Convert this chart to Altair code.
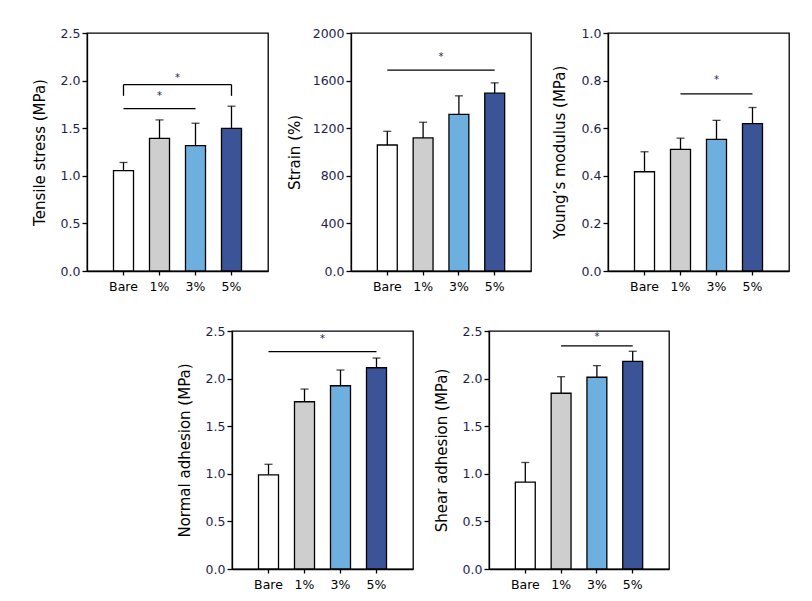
import altair as alt
import pandas as pd

cats = ["Bare", "1%", "3%", "5%"]
colors = ["#ffffff", "#cfcecf", "#6db0e0", "#3a5497"]

tensile_mean = [1.055, 1.394, 1.317, 1.499]
tensile_err = [0.085, 0.193, 0.235, 0.232]
strain_mean = [1059, 1118, 1317, 1494]
strain_err = [115, 132, 155, 87]
young_mean = [0.417, 0.511, 0.553, 0.619]
young_err = [0.084, 0.047, 0.080, 0.068]
normal_mean = [0.989, 1.757, 1.925, 2.114]
normal_err = [0.111, 0.133, 0.165, 0.102]
shear_mean = [0.913, 1.846, 2.014, 2.180]
shear_err = [0.206, 0.174, 0.122, 0.107]

# significance brackets: (from, to, level)
tensile_br = [("Bare", "5%", 1.958), ("Bare", "3%", 1.706)]
tensile_legs = [("Bare", 1.958, 1.84), ("5%", 1.958, 1.84)]
tensile_stars = [("1%", 2.03, True), ("1%", 1.84, False)]
strain_br = [("Bare", "5%", 1688)]
strain_stars = [("1%", 1800, True)]
young_br = [("1%", "5%", 0.744)]
young_stars = [("3%", 0.803, False)]
normal_br = [("Bare", "5%", 2.283)]
normal_stars = [("1%", 2.412, True)]
shear_br = [("1%", "5%", 2.343)]
shear_stars = [("3%", 2.44, False)]

tensile_ticks = [0, 0.5, 1.0, 1.5, 2.0, 2.5]
strain_ticks = [0, 400, 800, 1200, 1600, 2000]
young_ticks = [0, 0.2, 0.4, 0.6, 0.8, 1.0]

TICK_COLOR = "#1e1e4e"
H = 238
STEP = 36


def panel(title, mean, err, ymax, ticks, fmt, brackets, legs, stars, width, title_x):
    df = pd.DataFrame({"cat": cats, "mean": mean,
                       "top": [m + e for m, e in zip(mean, err)],
                       "color": colors})
    xscale = alt.Scale(domain=cats, paddingInner=0.444, paddingOuter=0.736)
    xaxis = alt.Axis(title=None, labelAngle=0, tickSize=4, labelPadding=5,
                     labelFontSize=12.5, labelColor="black", domainColor="black",
                     tickColor="black", domainWidth=1.3, tickWidth=1.3, grid=False)
    yscale = alt.Scale(domain=[0, ymax], nice=False, zero=True)
    if fmt == "int":
        lab = "datum.value == 0 ? '0.0' : format(datum.value, 'd')"
    else:
        lab = "format(datum.value, '.1f')"
    yaxis = alt.Axis(title=title, values=ticks, labelExpr=lab, tickSize=5,
                     labelPadding=2, labelFontSize=12.5, labelColor=TICK_COLOR,
                     domainColor="black", tickColor="black", domainWidth=1.3,
                     tickWidth=1.3, grid=False, titleFontSize=15,
                     titleFontWeight="normal", titleColor="black",
                     titleAngle=-90, titleX=title_x, titleY=H / 2,
                     titleAlign="center", titleBaseline="middle")

    def X(f, **kw):
        return alt.X(f + ":N", scale=xscale, axis=xaxis, **kw)

    def Y(f):
        return alt.Y(f + ":Q", scale=yscale, axis=yaxis)

    base = alt.Chart(df)
    bars = base.mark_bar(stroke="black", strokeWidth=1.3).encode(
        x=X("cat"), y=Y("mean"), fill=alt.Fill("color:N", scale=None))
    erule = base.mark_rule(color="black", strokeWidth=1.3).encode(
        x=X("cat"), y=Y("mean"), y2="top:Q")
    cap = base.mark_tick(color="black", size=8, thickness=1.3).encode(
        x=X("cat"), y=Y("top"))
    layers = [erule, cap, bars]

    bdf = pd.DataFrame({"s": [b[0] for b in brackets], "e": [b[1] for b in brackets],
                        "lv": [b[2] for b in brackets]})
    layers.append(alt.Chart(bdf).mark_rule(color="black", strokeWidth=1.3).encode(
        x=X("s", bandPosition=0.5), x2=alt.X2("e:N", bandPosition=0.5), y=Y("lv")))
    if legs:
        ldf = pd.DataFrame({"c": [l[0] for l in legs], "y1": [l[1] for l in legs],
                            "y2": [l[2] for l in legs]})
        layers.append(alt.Chart(ldf).mark_rule(color="black", strokeWidth=1.3).encode(
            x=X("c", bandPosition=0.5), y=Y("y1"), y2="y2:Q"))
    for c, yv, half in stars:
        sdf = pd.DataFrame({"c": [c], "y": [yv], "t": ["*"]})
        layers.append(alt.Chart(sdf).mark_text(
            fontSize=10, color="#222255", baseline="middle", align="center",
            dx=STEP / 2 if half else 0).encode(
            x=X("c", bandPosition=0.5), y=Y("y"), text="t:N"))
    return alt.layer(*layers).properties(width=width, height=H)


p1 = panel("Tensile stress (MPa)", tensile_mean, tensile_err, 2.5, tensile_ticks, "f",
           tensile_br, tensile_legs, tensile_stars, 181, -48)
p2 = panel("Strain (%)", strain_mean, strain_err, 2000, strain_ticks, "int",
           strain_br, None, strain_stars, 180, -57)
p3 = panel("Young’s modulus (MPa)", young_mean, young_err, 1.0, young_ticks, "f",
           young_br, None, young_stars, 181, -49)
p4 = panel("Normal adhesion (MPa)", normal_mean, normal_err, 2.5, tensile_ticks, "f",
           normal_br, None, normal_stars, 181, -47.5)
p5 = panel("Shear adhesion (MPa)", shear_mean, shear_err, 2.5, tensile_ticks, "f",
           shear_br, None, shear_stars, 180, -47.5)

spacer = alt.Chart(pd.DataFrame({"a": [0]})).mark_point(opacity=0).encode(
    x=alt.value(0), y=alt.value(0)).properties(
    width=89, height=H, view=alt.ViewBackground(strokeOpacity=0))

top = alt.hconcat(p1, alt.hconcat(p2, p3, spacing=19), spacing=17)
bottom = alt.hconcat(spacer, alt.hconcat(p4, p5, spacing=19), spacing=0)

chart = alt.vconcat(top, bottom, spacing=30,
                    padding={"left": 23, "top": 18, "right": 5, "bottom": 5}).configure(
    font="DejaVu Sans").configure_view(stroke="black", strokeWidth=1.3).configure_axis(
    labelFont="DejaVu Sans", titleFont="DejaVu Sans")

chart.save("out.html", embed_options={"renderer": "svg", "actions": False})
